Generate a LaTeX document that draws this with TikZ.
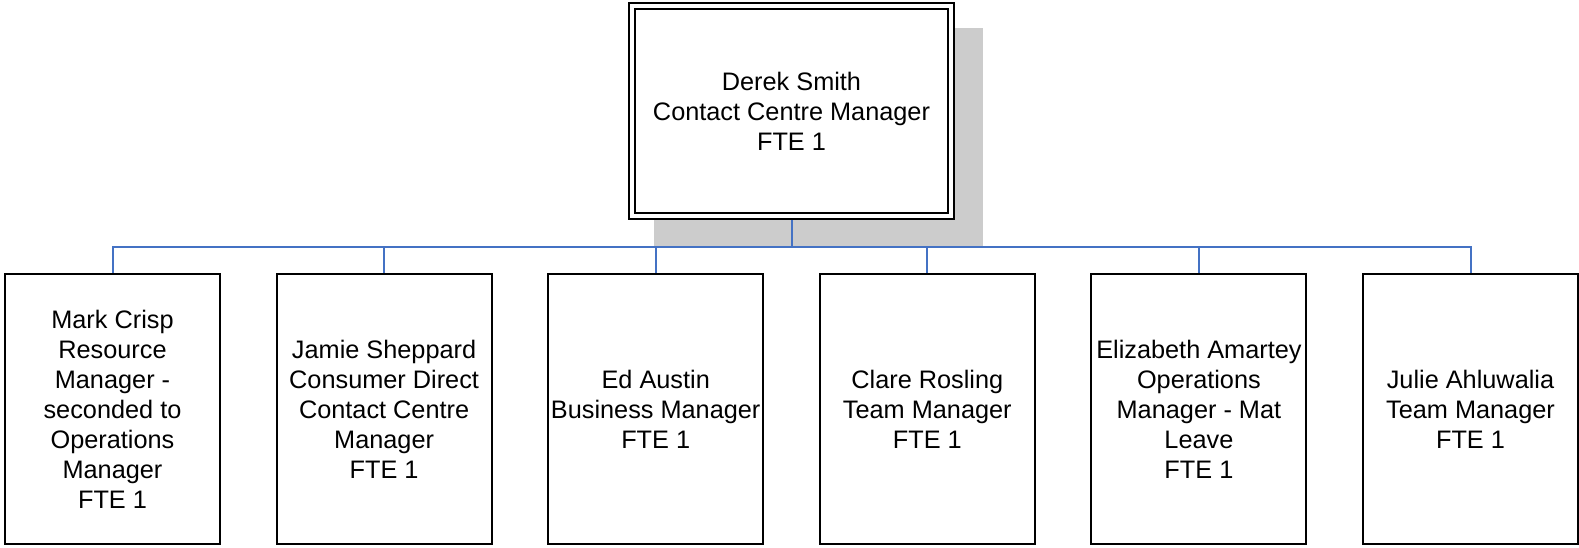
\documentclass[tikz,border=0pt]{standalone}
\usepackage{fontspec}
\setmainfont{Liberation Sans}
\definecolor{linkblue}{RGB}{68,114,196}
\definecolor{shadowgrey}{RGB}{204,204,204}
\usetikzlibrary{calc,backgrounds}

\begin{document}
\begin{tikzpicture}[x=1pt, y=-1pt,
        staff/.style={draw, line width=2pt, fill=white, outer sep=0pt, inner sep=0pt,
            align=center, minimum width=215pt, minimum height=270pt,
            font=\fontsize{25.3}{30}\selectfont},
        boss/.style={staff, double, double distance=4pt,
            minimum width=319pt, minimum height=210pt},
        link/.style={linkblue, line width=2pt}]
                \useasboundingbox (0,0) rectangle (1579,547);

                \node[boss] (derek) at (791.5,111) {Derek Smith\\Contact Centre Manager\\FTE 1};

                \node[staff] (mark) at (112.5,409) {Mark Crisp\\Resource\\Manager -\\seconded to\\Operations\\Manager\\FTE 1};
                \node[staff] (jamie) at (384.1,409) {Jamie Sheppard\\Consumer Direct\\Contact Centre\\Manager\\FTE 1};
                \node[staff] (ed) at (655.7,409) {Ed Austin\\Business Manager\\FTE 1};
                \node[staff] (clare) at (927.3,409) {Clare Rosling\\Team Manager\\FTE 1};
                \node[staff] (elizabeth) at (1198.9,409) {Elizabeth Amartey\\Operations\\Manager - Mat\\Leave\\FTE 1};
                \node[staff] (julie) at (1470.5,409) {Julie Ahluwalia\\Team Manager\\FTE 1};

                \begin{scope}[on background layer]
                    \fill[shadowgrey] ($(derek.north west)+(22,22)$) rectangle ($(derek.south east)+(32,31)$);
                    \foreach \n in {mark, jamie, ed, clare, elizabeth, julie} {
                        \draw[link] (derek.south) -- ++(0,31) -| (\n.north);
                    }
                \end{scope}
            \end{tikzpicture}
\end{document}
